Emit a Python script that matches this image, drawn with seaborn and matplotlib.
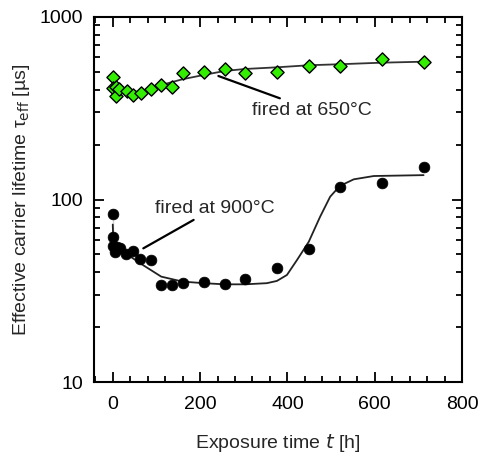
import numpy as np
import pandas as pd
import seaborn as sns
import matplotlib.pyplot as plt
from matplotlib.ticker import MultipleLocator, LogLocator, NullFormatter

# measured points, sample fired at 650 C
t_650 = [0, 0, 8, 7, 15, 32, 47, 64, 88, 111, 136, 160, 208, 256, 303, 376, 449, 520, 617, 712]
tau_650 = [471, 410, 413, 370, 402, 394, 374, 383, 403, 422, 413, 495, 498, 517, 491, 498, 541, 539, 587, 567]

# fit curve, 650 C
fit_t_650 = [0, 15, 47, 64, 88, 111, 160, 208, 256, 303, 376, 449, 520, 617, 712]
fit_tau_650 = [419, 398, 390, 390, 407, 424, 456, 481, 506, 519, 530, 544, 551, 562, 569]

# measured points, sample fired at 900 C
t_900 = [0, 0, 1, 5, 9, 17, 30, 47, 63, 87, 110, 135, 160, 208, 256, 303, 376, 449, 520, 617, 712]
tau_900 = [83.3, 62.5, 55.6, 51.8, 55.1, 54.4, 50.3, 52.4, 47.2, 46.6, 34.0, 34.0, 34.8, 35.2,
           34.3, 36.8, 42.0, 53.5, 117.5, 123.6, 151]

# fit curve, 900 C
fit_t_900 = [0, 0, 1.5, 24, 63, 111, 160, 208, 256, 303, 353, 376, 399, 422, 449, 475, 498,
             520, 552, 598, 712]
fit_tau_900 = [83.3, 62.5, 57.5, 51.8, 44.7, 37.8, 35.5, 34.8, 34.3, 34.3, 34.8, 35.8, 38.6,
               46.6, 58.7, 80.5, 103.6, 118.6, 129, 134.5, 136]


def main():
    sns.set_style("ticks")
    plt.rcParams['font.family'] = ['Liberation Sans', 'DejaVu Sans']
    fs = 14

    fig = plt.figure(figsize=(4.81, 4.63), dpi=100)
    ax = fig.add_axes([0.1954, 0.1749, 0.7651, 0.7884])

    fit650 = pd.DataFrame({"t": fit_t_650, "tau": fit_tau_650})
    fit900 = pd.DataFrame({"t": fit_t_900, "tau": fit_tau_900})
    sns.lineplot(data=fit650, x="t", y="tau", sort=False, color="#333333", lw=1.3, ax=ax)
    sns.lineplot(data=fit900, x="t", y="tau", sort=False, color="#222222", lw=1.3, ax=ax)

    pts650 = pd.DataFrame({"t": t_650, "tau": tau_650})
    pts900 = pd.DataFrame({"t": t_900, "tau": tau_900})
    sns.scatterplot(data=pts650, x="t", y="tau", marker="D", s=45, color="#33ee00",
                    edgecolor="black", linewidth=1.0, ax=ax, zorder=3)
    sns.scatterplot(data=pts900, x="t", y="tau", marker="o", s=60, color="black",
                    edgecolor="black", linewidth=0.5, ax=ax, zorder=3)

    ax.set_yscale("log")
    ax.set_xlim(-43, 800)
    ax.set_ylim(10, 1000)

    ax.xaxis.set_major_locator(MultipleLocator(200))
    ax.xaxis.set_minor_locator(MultipleLocator(40))
    ax.yaxis.set_minor_locator(LogLocator(base=10, subs=np.arange(2, 10)))
    ax.yaxis.set_minor_formatter(NullFormatter())
    ax.set_yticks([10, 100, 1000])
    ax.set_yticklabels(["10", "100", "1000"])

    ax.tick_params(which="both", direction="in", top=True, right=True, width=1.3,
                   labelsize=fs, colors="black")
    ax.tick_params(which="major", length=7)
    ax.tick_params(axis="x", which="major", pad=10)
    ax.tick_params(axis="y", which="major", pad=8)
    ax.tick_params(which="minor", length=4)
    for sp in ax.spines.values():
        sp.set_linewidth(1.5)
        sp.set_color("black")

    ax.set_xlabel("Exposure time $\\it{t}$ [h]", fontsize=fs, labelpad=14)
    ax.set_ylabel("Effective carrier lifetime τ$_{\\rm eff}$ [µs]", fontsize=fs, labelpad=5)

    ax.annotate("fired at 650°C", xy=(242, 475), xytext=(320, 309), fontsize=fs,
                va="center", ha="left",
                arrowprops=dict(arrowstyle="-", color="black", lw=1.6, shrinkA=0, shrinkB=0))
    ax.annotate("fired at 900°C", xy=(70, 54), xytext=(96, 89.7), fontsize=fs,
                va="center", ha="left",
                arrowprops=dict(arrowstyle="-", color="black", lw=1.6, shrinkA=0, shrinkB=0))

    plt.savefig("out.png", dpi=100)


if __name__ == "__main__":
    main()
